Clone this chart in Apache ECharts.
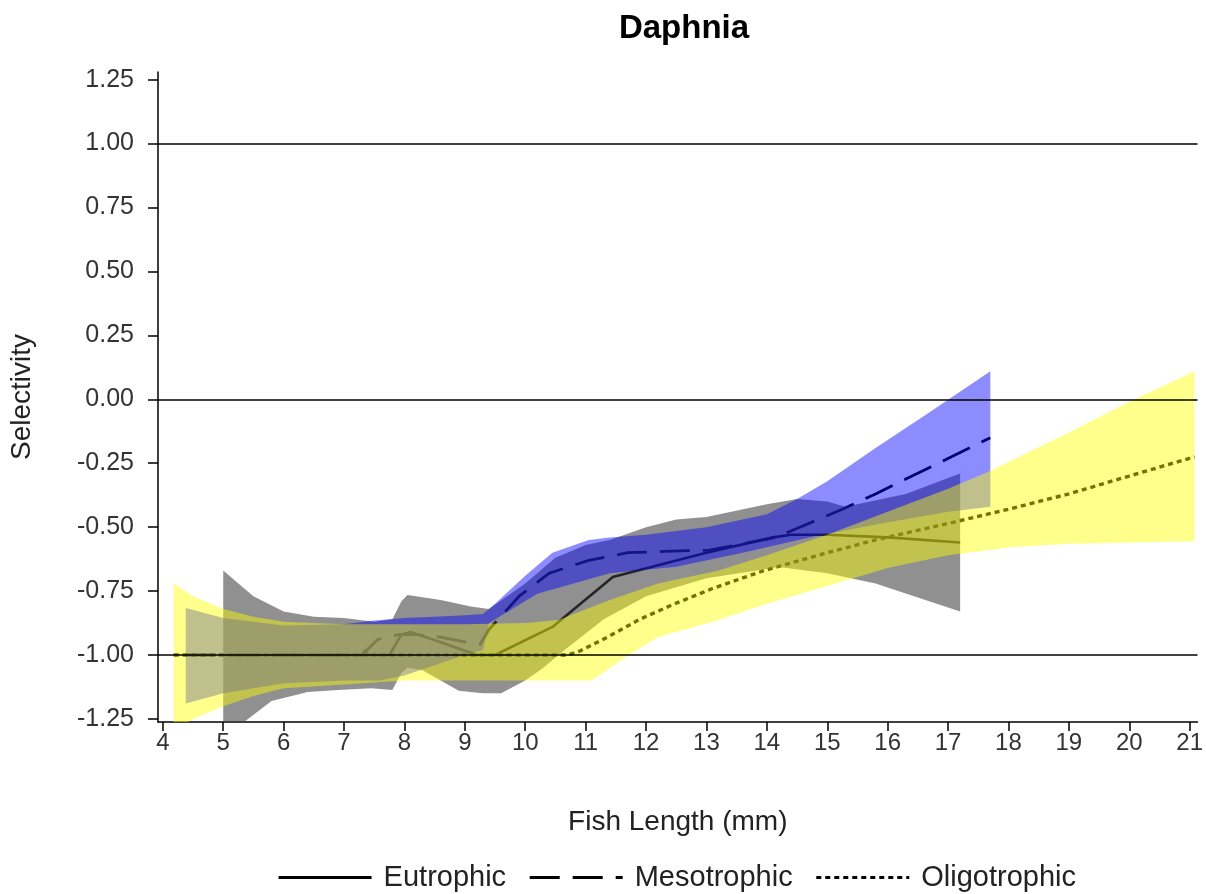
<!DOCTYPE html>
<html>
<head>
<meta charset="utf-8">
<script src="https://cdn.jsdelivr.net/npm/echarts@6/dist/echarts.min.js"></script>
<style>html,body{margin:0;padding:0;background:#fff}#c{width:1206px;height:894px}</style>
</head>
<body>
<div id="c"></div>
<script>
// ---- tick labels ----
const xTicks = [4,5,6,7,8,9,10,11,12,13,14,15,16,17,18,19,20,21];
const yTicks = [-1.25,-1,-0.75,-0.5,-0.25,0,0.25,0.5,0.75,1,1.25];
const refLines = [1, 0, -1];

// ---- fitted lines ----
const eutroX = [5, 7.3, 7.35, 7.4, 7.75, 7.95, 8.1, 8.6, 9.2, 9.5, 10.45, 11.45, 12.5, 13, 14.1, 14.4, 15, 16, 17.2];
const eutroY = [-1, -1, -0.98, -1, -1, -0.92, -0.91, -0.95, -1, -1, -0.89, -0.695, -0.63, -0.6, -0.54, -0.53, -0.53, -0.54, -0.56];

const mesoX = [4.38, 7.3, 7.55, 7.9, 8.2, 8.6, 9.25, 9.4, 9.9, 10.4, 11.05, 11.7, 12.3, 13.05, 14.15, 15.25, 15.8, 17.7];
const mesoY = [-1, -1, -0.94, -0.92, -0.92, -0.93, -0.96, -0.9, -0.77, -0.68, -0.63, -0.6, -0.595, -0.59, -0.54, -0.43, -0.37, -0.15];

const oligoX = [4.18, 10.7, 10.9, 11.36, 11.9, 12.47, 13.1, 13.95, 15, 15.8, 17.1, 18, 19, 20, 21.08];
const oligoY = [-1, -1, -0.985, -0.93, -0.86, -0.8, -0.74, -0.67, -0.6, -0.55, -0.48, -0.43, -0.37, -0.3, -0.225];

// ---- confidence bands ----
const eutroUpX = [5, 5.25, 5.5, 6, 6.5, 7, 7.5, 7.8, 7.95, 8.05, 8.6, 9.1, 9.4, 10, 10.5, 11, 11.4, 12, 12.5, 13, 14, 14.5, 15, 15.3, 16.3, 17.2];
const eutroUpY = [-0.67, -0.72, -0.77, -0.83, -0.85, -0.855, -0.87, -0.86, -0.79, -0.765, -0.785, -0.81, -0.82, -0.72, -0.62, -0.57, -0.55, -0.5, -0.47, -0.46, -0.41, -0.39, -0.4, -0.42, -0.37, -0.29];
const eutroLoX = [5, 5.3, 5.8, 6.4, 6.9, 7.45, 7.8, 7.95, 8.05, 8.3, 8.6, 8.9, 9.3, 9.6, 10, 10.3, 10.6, 11.3, 12, 13, 14.2, 15, 15.8, 17.2];
const eutroLoY = [-1.3, -1.27, -1.18, -1.145, -1.137, -1.13, -1.137, -1.07, -1.05, -1.06, -1.1, -1.14, -1.15, -1.15, -1.1, -1.05, -0.99, -0.86, -0.77, -0.7, -0.656, -0.68, -0.72, -0.83];

const mesoUpX = [4.38, 5, 6, 7, 7.5, 8, 8.5, 9, 9.3, 9.5, 10, 10.45, 11.05, 11.4, 12, 13, 14, 14.5, 15, 15.8, 16.7, 17.7];
const mesoUpY = [-0.816, -0.855, -0.885, -0.88, -0.865, -0.855, -0.85, -0.845, -0.84, -0.8, -0.69, -0.6, -0.55, -0.54, -0.53, -0.5, -0.45, -0.39, -0.32, -0.19, -0.05, 0.11];
const mesoLoX = [4.38, 5, 6, 7, 7.6, 8, 8.5, 9, 9.3, 9.4, 10.2, 11.4, 12.5, 13.6, 14.7, 15.8, 17, 17.7];
const mesoLoY = [-1.19, -1.15, -1.11, -1.1, -1.1, -1.08, -1.04, -1, -0.98, -0.875, -0.76, -0.68, -0.655, -0.6, -0.54, -0.49, -0.44, -0.42];

const oligoUpX = [4.18, 4.5, 5, 5.5, 6, 7, 8, 9, 10, 10.55, 11.4, 12.2, 13.2, 14, 15, 16, 17, 17.6, 18, 19, 20, 21.08];
const oligoUpY = [-0.72, -0.77, -0.82, -0.85, -0.87, -0.88, -0.88, -0.88, -0.875, -0.863, -0.785, -0.72, -0.67, -0.61, -0.53, -0.44, -0.35, -0.29, -0.245, -0.13, -0.01, 0.11];
const oligoLoX = [4.18, 4.5, 5, 5.5, 6, 7, 8, 9, 10, 11.1, 11.65, 12.2, 13.2, 14, 15, 16, 17, 18, 19, 21.08];
const oligoLoY = [-1.3, -1.25, -1.2, -1.16, -1.13, -1.115, -1.1, -1.1, -1.1, -1.1, -1.01, -0.93, -0.863, -0.8, -0.73, -0.66, -0.61, -0.58, -0.565, -0.555];

const FONT = '"Liberation Sans", Arial, sans-serif';
const zip = (xs, ys) => xs.map((x, i) => [x, ys[i]]);

function band(upX, upY, loX, loY, fill, z) {
  return {
    type: 'custom', z: z, silent: true, clip: true,
    data: zip(upX, upY).concat(zip(loX, loY)),
    encode: { x: 0, y: 1 },
    renderItem: function (params, api) {
      if (params.dataIndex !== 0) return null;
      const pts = [];
      for (let i = 0; i < upX.length; i++) pts.push(api.coord([upX[i], upY[i]]));
      for (let i = loX.length - 1; i >= 0; i--) pts.push(api.coord([loX[i], loY[i]]));
      return { type: 'polygon', shape: { points: pts }, style: { fill: fill } };
    }
  };
}

function lineSeries(name, xs, ys, type, width, extra) {
  const s = {
    name: name, type: 'line', z: 1, symbol: 'none', silent: true,
    data: zip(xs, ys),
    lineStyle: { color: '#000', width: width, type: type },
    itemStyle: { color: '#000' }
  };
  return Object.assign(s, extra || {});
}

const chart = echarts.init(document.getElementById('c'), null, { renderer: 'canvas' });
chart.setOption({
  animation: false,
  backgroundColor: '#fff',
  title: {
    text: 'Daphnia', left: 679, top: 7, textAlign: 'center',
    textStyle: { fontFamily: FONT, fontSize: 33, fontWeight: 'bold', color: '#000' }
  },
  grid: { left: 157, right: 5, top: 72, bottom: 172 },
  legend: {
    data: ['Eutrophic', 'Mesotrophic', 'Oligotrophic'],
    left: 272, top: 858, itemWidth: 93, itemHeight: 20, itemGap: 22,
    itemStyle: { opacity: 0 },
    lineStyle: { width: 3.2 },
    textStyle: { fontFamily: FONT, fontSize: 29, color: '#222', padding: [0, 0, 0, 7] }
  },
  xAxis: {
    type: 'value', min: 3.92, max: 21.13,
    name: 'Fish Length (mm)', nameLocation: 'middle', nameGap: 86,
    nameTextStyle: { fontFamily: FONT, fontSize: 28, color: '#222' },
    axisLine: { onZero: false, lineStyle: { color: '#000', width: 1.5 } },
    axisTick: { show: true, length: 9, customValues: xTicks, lineStyle: { color: '#000', width: 1.5 } },
    axisLabel: { customValues: xTicks, margin: 9, fontFamily: FONT, fontSize: 24, color: '#333' },
    splitLine: { show: false }
  },
  yAxis: {
    type: 'value', min: -1.262, max: 1.28,
    name: 'Selectivity', nameLocation: 'middle', nameGap: 122,
    nameTextStyle: { fontFamily: FONT, fontSize: 28, color: '#222' },
    axisLine: { show: true, onZero: false, lineStyle: { color: '#000', width: 1.5 } },
    axisTick: { show: true, length: 10, customValues: yTicks, lineStyle: { color: '#000', width: 1.5 } },
    axisLabel: {
      customValues: yTicks, margin: 24, fontFamily: FONT, fontSize: 25, color: '#333',
      formatter: v => v.toFixed(2)
    },
    splitLine: { show: false }
  },
  series: [
    lineSeries('Eutrophic', eutroX, eutroY, 'solid', 2.6, {
      markLine: {
        silent: true, symbol: 'none', label: { show: false },
        lineStyle: { color: '#000', width: 1.6, type: 'solid' },
        data: refLines.map(v => ({ yAxis: v }))
      }
    }),
    lineSeries('Mesotrophic', mesoX, mesoY, [30, 13], 2.8),
    lineSeries('Oligotrophic', oligoX, oligoY, [5, 4], 3.4),
    band(eutroUpX, eutroUpY, eutroLoX, eutroLoY, 'rgba(64,64,64,0.58)', 2),
    band(mesoUpX, mesoUpY, mesoLoX, mesoLoY, 'rgba(0,0,255,0.45)', 3),
    band(oligoUpX, oligoUpY, oligoLoX, oligoLoY, 'rgba(255,255,0,0.45)', 4)
  ]
});
</script>
</body>
</html>
